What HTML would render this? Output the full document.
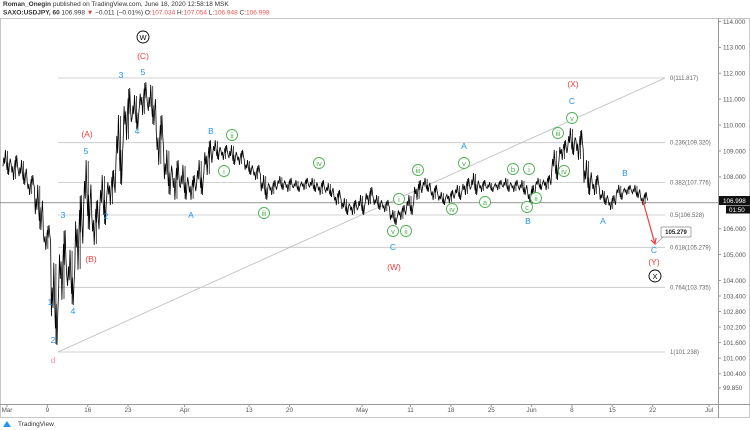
<!DOCTYPE html>
<html><head><meta charset="utf-8"><style>
body{margin:0;background:#fff;font-family:"Liberation Sans",sans-serif;}
svg{display:block}
</style></head><body>
<svg id="c" width="750" height="430" viewBox="0 0 750 430" xmlns="http://www.w3.org/2000/svg">
<text x="3" y="6" font-size="6.5" fill="#333"><tspan font-weight="bold">Roman_Onegin</tspan> published on TradingView.com, June 18, 2020 12:58:18 MSK</text>
<text x="3" y="14.5" font-size="6.5" fill="#333"><tspan font-weight="bold">SAXO:USDJPY, 60</tspan> 106.998 <tspan fill="#e53935">▼</tspan> −0.011 (−0.01%) O:<tspan fill="#ef5350">107.034</tspan> H:<tspan fill="#ef5350">107.054</tspan> L:<tspan fill="#ef5350">106.948</tspan> C:<tspan fill="#ef5350">106.998</tspan></text>
<rect x="0.5" y="18.5" width="749" height="399" fill="none" stroke="#c8c8c8"/>
<line x1="718.5" y1="18" x2="718.5" y2="418" stroke="#9a9a9a"/>
<line x1="0" y1="404.5" x2="750" y2="404.5" stroke="#9a9a9a"/>
<g id="g"></g>
<text x="18" y="426" font-size="6.5" fill="#333">TradingView</text>
<path d="M3 427 l4 -6 l4 6 z" fill="#2196f3"/>
</svg>
<script>
const hi=[109.04,108.84,108.65,108.07,107.69,106.14,104.68,105.95,105.18,107.30,108.65,107.11,108.07,108.27,110.39,111.43,111.16,111.66,111.55,110.39,109.04,108.65,108.46,108.07,108.65,109.42,109.42,109.23,109.23,109.04,108.65,108.46,108.07,107.88,108.03,107.96,107.88,107.96,107.96,107.88,107.76,107.49,107.18,107.11,107.30,107.61,107.30,107.11,106.72,106.91,107.30,107.88,107.96,107.69,107.42,107.49,107.69,107.96,108.15,107.88,107.80,107.88,107.96,107.88,107.88,107.69,107.96,108.07,109.04,109.42,109.89,109.81,108.65,108.07,107.49,107.30,107.69,107.69,107.69,107.42];
const lo=[108.07,107.88,107.69,107.30,105.95,105.18,101.51,103.25,103.05,104.41,105.95,105.37,106.14,106.91,107.69,109.42,109.81,110.39,110.00,108.46,107.30,107.11,107.11,107.11,107.30,108.07,108.65,108.65,108.46,108.46,108.07,107.88,107.11,107.30,107.49,107.42,107.42,107.49,107.42,107.30,107.22,106.91,106.53,106.53,106.53,106.91,106.72,106.64,106.14,106.34,106.53,107.11,107.42,107.11,106.91,106.99,107.11,107.30,107.30,107.42,107.42,107.49,107.42,107.42,107.30,106.91,107.49,107.49,107.88,108.65,108.84,108.65,107.30,107.30,106.91,106.72,107.11,107.30,107.18,106.91];
const fibLevels=[0,0.236,0.382,0.5,0.618,0.764,1];
const fibPrices=[111.817,109.320,107.776,106.528,105.279,103.735,101.238];
const priceTicks=[114,113,112,111,110,109,108,106,105,104,103.4,102.8,102.2,101.6,101,100.4,99.85];
const dateLabels=["Mar","9","16","23","Apr","13","20","May","11","18","25","Jun","8","15","22","Jul"];
const dateIdx=[0,5,10,15,22,30,35,44,50,55,60,65,70,75,80,87];
const lastPrice=106.998;
const NS="http://www.w3.org/2000/svg";
const g=document.getElementById('g');
const X=d=>7+d*8.07;
const Y=p=>78+(111.817-p)*25.9;
function el(t,a,txt){const e=document.createElementNS(NS,t);for(const k in a)e.setAttribute(k,a[k]);if(txt!==undefined)e.textContent=txt;g.appendChild(e);return e;}
priceTicks.forEach(p=>{
 const t=el('text',{x:723,y:Y(p)+2.3,'font-size':6.3,fill:'#555'},p.toFixed(3));
 
 
 el('line',{x1:718,x2:721,y1:Y(p),y2:Y(p),stroke:'#999'});
});
dateLabels.forEach((s,i)=>{
 const t=el('text',{x:X(dateIdx[i]),y:412,'font-size':6.3,fill:'#555','text-anchor':'middle'},s);
 
 
 el('line',{x1:X(dateIdx[i]),x2:X(dateIdx[i]),y1:404,y2:407,stroke:'#999'});
});
fibPrices.forEach((p,i)=>{
 const l=el('line',{x1:58,x2:665,y1:Y(p),y2:Y(p),stroke:'#c4c4c4','stroke-width':0.8});
 
 
 const t=el('text',{x:670,y:Y(p)+2,'font-size':6,fill:'#666'},fibLevels[i]+'('+fibPrices[i].toFixed(3)+')');
 
 
});
const tl=el('line',{x1:58,y1:Y(fibPrices[6]),x2:665,y2:Y(fibPrices[0]),stroke:'#bbb','stroke-width':0.8});


const cl=el('line',{x1:0,x2:718,y1:Y(lastPrice),y2:Y(lastPrice),stroke:'#555','stroke-width':0.6});


let pts=[];
const f=[0.35,0.7,0.45,1,0.55,0.2,0.5,0,0.4,0.65];
hi.forEach((h,d)=>{const l=lo[d],x=X(d),r=h-l;
 for(let k=0;k<10;k++){const q=(d%2==0)?f[k]:1-f[k];pts.push([x-4+k*0.8,l+r*q]);}
});
const ps=el('path',{d:'M'+pts.map(p=>p[0].toFixed(1)+' '+Y(p[1]).toFixed(1)).join(' L'),fill:'none',stroke:'#000','stroke-width':0.8});


hi.forEach((h,d)=>{const b=el('line',{x1:X(d)+0.5,x2:X(d)+0.5,y1:Y(h)+1,y2:Y(lo[d])-1,stroke:'#000','stroke-width':0.7});
 
 });
const ar=el('path',{d:'M643 201 L655 244',stroke:'#f23c3c','stroke-width':1.2,fill:'none'});


el('path',{d:'M651 240 L655 244 L656 238',stroke:'#f23c3c','stroke-width':1.2,fill:'none'});
el('line',{x1:656,y1:244,x2:663,y2:237,stroke:'#999','stroke-width':0.7});
const tb=el('rect',{x:661,y:227,width:30,height:10,fill:'#fff',stroke:'#888','stroke-width':0.7,rx:1});


el('text',{x:676,y:234,'font-size':6,'font-weight':'bold','text-anchor':'middle',fill:'#222'},'105.279');
const pt=el('rect',{x:719,y:196,width:31,height:9,fill:'#111'});


el('text',{x:723,y:203,'font-size':6.3,fill:'#fff'},'106.998');
el('rect',{x:726,y:205.5,width:24,height:8,fill:'#111'});
el('text',{x:729,y:212,'font-size':6.3,fill:'#fff'},'01:50');
const BL='#2196f3',RD='#f23c3c',GR='#4caf50';
function lab(x,y,s,c,name){const t=el('text',{x:x,y:y+3,'font-size':8.5,fill:c,'text-anchor':'middle'},s);
 
 }
function circ(x,y,s,c,r,name){const e=el('circle',{cx:x,cy:y,r:r,fill:'#fff',stroke:c,'stroke-width':0.9});
 
 
 el('text',{x:x,y:y+2.8,'font-size':r>6?9:7.5,fill:c,'text-anchor':'middle'},s);}
[[121,75,'3'],[143,72,'5'],[137,131,'4'],[86,151,'5'],[63,215,'3'],[106,216,'2'],[50,302,'1'],[73,311,'4'],[53,340,'2'],[191,215,'A'],[211,131,'B'],[393,247,'C'],[464,146,'A'],[528,221,'B'],[572,101,'C'],[603,221,'A'],[625,173,'B'],[654,250,'C']].forEach(a=>lab(a[0],a[1],a[2],BL,'wave-label-minor'));
[[143,56,'(C)'],[87,134,'(A)'],[91,259,'(B)'],[394,267,'(W)'],[573,84,'(X)'],[654,262,'(Y)']].forEach(a=>lab(a[0],a[1],a[2],RD,'wave-label-intermediate'));
lab(53,360,'d','#f48fb1','wave-label-d');
[[232,135,'ii'],[224,171,'i'],[264,213,'iii'],[319,163,'iv'],[393,231,'v'],[406,231,'ii'],[399,199,'i'],[418,170,'iii'],[452,209,'iv'],[464,163,'v'],[485,202,'a'],[513,169,'b'],[529,169,'i'],[527,207,'c'],[536,198,'ii'],[558,133,'iii'],[572,118,'v'],[564,171,'iv']].forEach(a=>circ(a[0],a[1],a[2],GR,5.5,'wave-label-minute'));
circ(143,37,'W','#000',6,'wave-label-primary');
circ(655,276,'X','#000',6,'wave-label-primary');
</script>
</body></html>
